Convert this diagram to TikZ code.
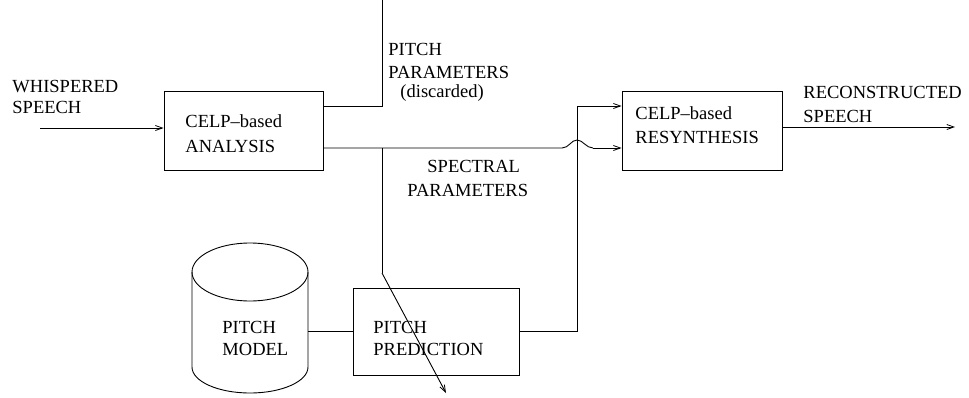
\documentclass[tikz,border=0pt]{standalone}
\usepackage{fontspec}
\setmainfont{Liberation Serif}
\usetikzlibrary{arrows.meta}
\begin{document}
\begin{tikzpicture}[x=1pt,y=-1pt,
  line width=0.9pt,
  box/.style={draw,rectangle,line width=0.9pt,inner sep=0pt},
  lbl/.style={anchor=base west,inner sep=0pt,font=\fontsize{18.5}{21}\selectfont},
  arr/.style={-{Straight Barb[length=7pt,width=5pt,line width=0.8pt]}}]
\useasboundingbox (0,0) rectangle (969,397);
% boxes
\node[box,minimum width=159pt,minimum height=79pt] (ana) at (243.5,131) {};
\node[box,minimum width=160pt,minimum height=79pt] (res) at (702,130.5) {};
\node[box,minimum width=166pt,minimum height=87pt] (pred) at (436,331.5) {};
% cylinder (pitch model)
\draw (192,272) -- (192,367) arc[start angle=180,end angle=0,x radius=58,y radius=26] -- (308,272);
\draw (250,272) ellipse[x radius=58,y radius=29];
\coordinate (modelE) at (308,331);
\coordinate (in) at (40,128);
\coordinate (out) at (955,127);
\coordinate (pitchTop) at (382,0);
\coordinate (pitchCorner) at (382,106);
\coordinate (anaPitch) at (ana.east |- 0,106);
\coordinate (anaSpec) at (ana.east |- 0,148);
\coordinate (humpL) at (562,148);
\coordinate (humpR) at (593,148);
\coordinate (resSpec) at (res.west |- 0,148);
\coordinate (resPitch) at (res.west |- 0,106);
\coordinate (branch) at (382,148);
\coordinate (bend) at (382,273);
\coordinate (tip) at (446,393);
\coordinate (predOut) at (pred.east |- 0,331);
\coordinate (vUp) at (577,331);
\coordinate (vTop) at (577,106);
% connectors
\draw[arr] (in) -- (ana.west |- in);
\draw (anaPitch) -- (pitchCorner) -- (pitchTop);
\draw (anaSpec) -- (humpL) .. controls (569,148) and (571,140) .. (577,140) .. controls (583,140) and (586,148) .. (humpR);
\draw[arr] (humpR) -- (resSpec);
\draw (branch) -- (bend);
\draw[arr] (bend) -- (tip);
\draw (modelE) -- (pred.west |- modelE);
\draw (predOut) -- (vUp) -- (vTop);
\draw[arr] (vTop) -- (resPitch);
\draw[arr] (res.east |- out) -- (out);
% labels
\node[lbl] (t1) at (12,92) {WHISPERED};
\node[lbl] (t2) at (12,113) {SPEECH};
\node[lbl] (t3) at (185,127) {CELP–based};
\node[lbl] (t4) at (185,152) {ANALYSIS};
\node[lbl] (t5) at (388,55) {PITCH};
\node[lbl] (t6) at (388,78) {PARAMETERS};
\node[lbl] (t7) at (400,97) {(discarded)};
\node[lbl] (t8) at (427,172) {SPECTRAL};
\node[lbl] (t9) at (407,196) {PARAMETERS};
\node[lbl] (t10) at (635,119) {CELP–based};
\node[lbl] (t11) at (635,143) {RESYNTHESIS};
\node[lbl] (t12) at (803,98) {RECONSTRUCTED};
\node[lbl] (t13) at (803,122) {SPEECH};
\node[lbl] (t14) at (222,333) {PITCH};
\node[lbl] (t15) at (222,355) {MODEL};
\node[lbl] (t16) at (373,333) {PITCH};
\node[lbl] (t17) at (373,355) {PREDICTION};
\end{tikzpicture}
\end{document}
